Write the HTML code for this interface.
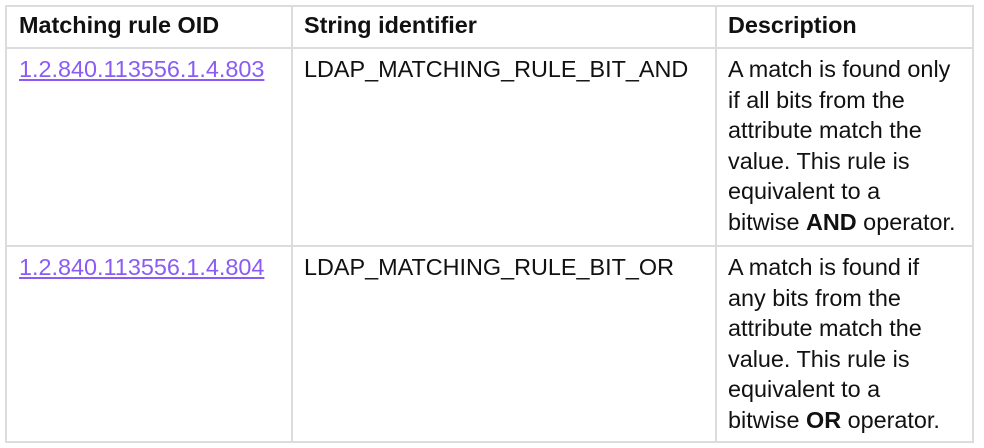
<!DOCTYPE html>
<html><head><style>
body{margin:0;width:984px;height:448px;background:#fff;position:relative;overflow:hidden;font-family:"Liberation Sans",Arial,sans-serif;font-size:23.4px;color:#111;}
.l{position:absolute;background:#dcdcdc;}
.t{position:absolute;line-height:30.6px;white-space:nowrap;}
b{font-weight:bold;}
a{color:#8a5cf5;text-decoration:underline;}
</style></head><body>
<div class="l" style="left:5px;top:5px;width:969px;height:2px"></div>
<div class="l" style="left:5px;top:47px;width:969px;height:2px"></div>
<div class="l" style="left:5px;top:245px;width:969px;height:2px"></div>
<div class="l" style="left:5px;top:441px;width:969px;height:2px"></div>
<div class="l" style="left:5px;top:5px;width:2px;height:438px"></div>
<div class="l" style="left:291px;top:5px;width:2px;height:438px"></div>
<div class="l" style="left:715px;top:5px;width:2px;height:438px"></div>
<div class="l" style="left:972px;top:5px;width:2px;height:438px"></div>

<div class="t" style="left:19px;top:10px"><b>Matching rule OID</b></div>
<div class="t" style="left:304px;top:10px"><b>String identifier</b></div>
<div class="t" style="left:728px;top:10px"><b>Description</b></div>

<div class="t" style="left:19px;top:54px"><a>1.2.840.113556.1.4.803</a></div>
<div class="t" style="left:304px;top:54px">LDAP_MATCHING_RULE_BIT_AND</div>
<div class="t" style="left:728px;top:54px">A match is found only<br>if all bits from the<br>attribute match the<br>value. This rule is<br>equivalent to a<br>bitwise <b>AND</b> operator.</div>

<div class="t" style="left:19px;top:252px"><a>1.2.840.113556.1.4.804</a></div>
<div class="t" style="left:304px;top:252px">LDAP_MATCHING_RULE_BIT_OR</div>
<div class="t" style="left:728px;top:252px">A match is found if<br>any bits from the<br>attribute match the<br>value. This rule is<br>equivalent to a<br>bitwise <b>OR</b> operator.</div>
</body></html>
